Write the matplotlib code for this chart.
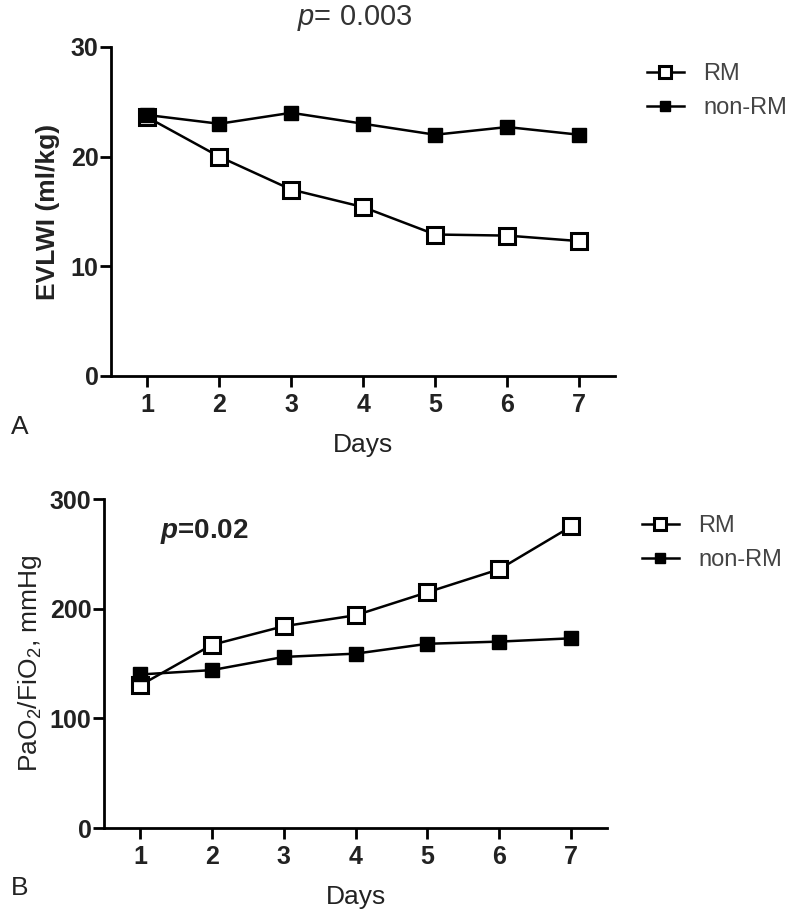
import matplotlib
matplotlib.use("Agg")
import matplotlib.pyplot as plt

plt.rcParams['font.family'] = ['Liberation Sans', 'DejaVu Sans']
plt.rcParams['mathtext.fontset'] = 'custom'
plt.rcParams['mathtext.rm'] = 'Liberation Sans'
plt.rcParams['mathtext.it'] = 'Liberation Sans:italic'
plt.rcParams['mathtext.bf'] = 'Liberation Sans:bold:italic'

days = [1, 2, 3, 4, 5, 6, 7]
evlwi_rm = [23.6, 20.0, 17.0, 15.4, 12.9, 12.8, 12.3]
evlwi_non = [23.8, 23.0, 24.0, 23.0, 22.0, 22.7, 22.0]
pf_rm = [130, 167, 184, 194, 215, 236, 275]
pf_non = [140, 144, 156, 159, 168, 170, 173]

fig = plt.figure(figsize=(8, 9.09), dpi=100)

def style(ax, ylim, yticks):
    ax.set_xlim(0.5, 7.5)
    ax.set_ylim(*ylim)
    ax.set_xticks(days)
    ax.set_yticks(yticks)
    for s in ['top', 'right']:
        ax.spines[s].set_visible(False)
    for s in ['left', 'bottom']:
        ax.spines[s].set_linewidth(2)
    ax.tick_params(axis='x', direction='out', length=8, width=2, labelsize=18, pad=4)
    ax.tick_params(axis='y', direction='out', length=8, width=2, labelsize=18, pad=1)
    for lab in ax.get_xticklabels() + ax.get_yticklabels():
        lab.set_fontweight('bold')
        lab.set_color('#222222')

def draw(ax, rm, non):
    l1, = ax.plot(days, rm, color='black', lw=1.8, marker='s', ms=11,
                  mfc='white', mec='black', mew=2.2, label='RM', clip_on=False, zorder=3)
    l2, = ax.plot(days, non, color='black', lw=1.8, marker='s', ms=10,
                  mfc='black', mec='black', label='non-RM', clip_on=False, zorder=4)
    return l1, l2

# Panel A
axA = fig.add_axes([0.139, 0.5864, 0.630, 0.3619])
l1, l2 = draw(axA, evlwi_rm, evlwi_non)
style(axA, (0, 30), [0, 10, 20, 30])
axA.set_ylabel('EVLWI (ml/kg)', fontsize=19, fontweight='bold', color='#222222', labelpad=8)
axA.set_xlabel('Days', fontsize=19, color='#222222', labelpad=12)
fig.text(0.444, 0.980, r'$p$= 0.003', fontsize=21, color='#333333', ha='center', va='center')
fig.text(0.014, 0.530, 'A', fontsize=19, color='#222222', va='center')
axA.legend(handles=[l1, l2], loc='upper left', bbox_to_anchor=(1.02, 1.015),
           frameon=False, fontsize=17, handlelength=1.6, handletextpad=0.8,
           labelspacing=0.5, markerscale=0.75, labelcolor='#444444')

# Panel B
axB = fig.add_axes([0.130, 0.0891, 0.629, 0.3619])
m1, m2 = draw(axB, pf_rm, pf_non)
style(axB, (0, 300), [0, 100, 200, 300])
axB.set_ylabel(r'PaO$_2$/FiO$_2$, mmHg', fontsize=19, color='#222222', labelpad=4)
axB.set_xlabel('Days', fontsize=19, color='#222222', labelpad=12)
fig.text(0.200, 0.415, r'$\mathbf{p}$=0.02', fontsize=20, fontweight='bold', color='#222222', va='center')
fig.text(0.014, 0.023, 'B', fontsize=19, color='#222222', va='center')
axB.legend(handles=[m1, m2], loc='upper left', bbox_to_anchor=(1.026, 1.015),
           frameon=False, fontsize=17, handlelength=1.6, handletextpad=0.8,
           labelspacing=0.5, markerscale=0.75, labelcolor='#444444')

fig.savefig('out.png', dpi=100)
